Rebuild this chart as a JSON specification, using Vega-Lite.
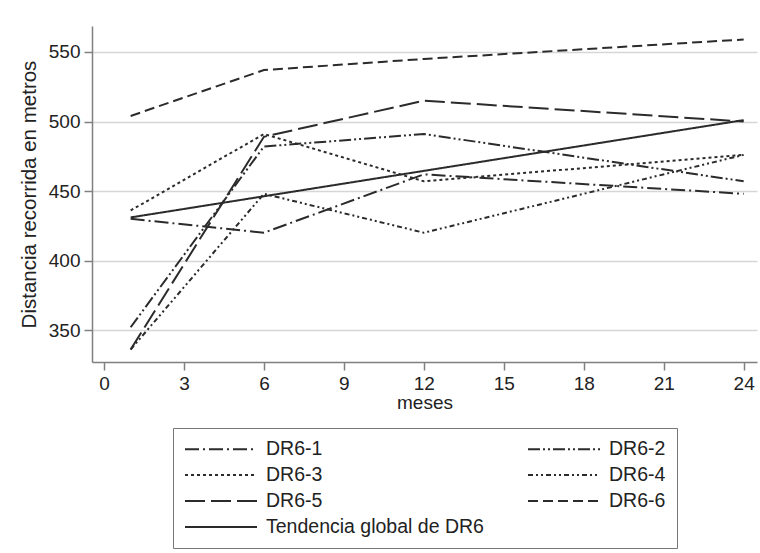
{
  "$schema": "https://vega.github.io/schema/vega-lite/v6.json",
  "width": 665,
  "height": 336,
  "autosize": {"type": "none"},
  "padding": {"left": 92, "top": 26, "right": 3, "bottom": 191},
  "background": "white",
  "data": {
    "values": [
      {"serie": "DR6-1", "mes": 1, "valor": 430},
      {"serie": "DR6-1", "mes": 6, "valor": 420},
      {"serie": "DR6-1", "mes": 12, "valor": 462},
      {"serie": "DR6-1", "mes": 24, "valor": 448},
      {"serie": "DR6-2", "mes": 1, "valor": 352},
      {"serie": "DR6-2", "mes": 6, "valor": 482},
      {"serie": "DR6-2", "mes": 12, "valor": 491},
      {"serie": "DR6-2", "mes": 24, "valor": 457},
      {"serie": "DR6-3", "mes": 1, "valor": 436},
      {"serie": "DR6-3", "mes": 6, "valor": 491},
      {"serie": "DR6-3", "mes": 12, "valor": 457},
      {"serie": "DR6-3", "mes": 24, "valor": 476},
      {"serie": "DR6-4", "mes": 1, "valor": 336},
      {"serie": "DR6-4", "mes": 6, "valor": 448},
      {"serie": "DR6-4", "mes": 12, "valor": 420},
      {"serie": "DR6-4", "mes": 24, "valor": 476},
      {"serie": "DR6-5", "mes": 1, "valor": 336},
      {"serie": "DR6-5", "mes": 6, "valor": 489},
      {"serie": "DR6-5", "mes": 12, "valor": 515},
      {"serie": "DR6-5", "mes": 24, "valor": 500},
      {"serie": "DR6-6", "mes": 1, "valor": 504},
      {"serie": "DR6-6", "mes": 6, "valor": 537},
      {"serie": "DR6-6", "mes": 12, "valor": 545},
      {"serie": "DR6-6", "mes": 24, "valor": 559},
      {"serie": "Tendencia global de DR6", "mes": 1, "valor": 431},
      {"serie": "Tendencia global de DR6", "mes": 24, "valor": 501}
    ]
  },
  "mark": {"type": "line", "color": "#2b2b2b", "strokeCap": "butt", "clip": true},
  "encoding": {
    "x": {
      "field": "mes", "type": "quantitative", "title": "meses",
      "scale": {"domain": [-0.45, 24.5], "nice": false, "zero": false},
      "axis": {"values": [0, 3, 6, 9, 12, 15, 18, 21, 24], "grid": false, "titlePadding": 0, "titleFontSize": 19}
    },
    "y": {
      "field": "valor", "type": "quantitative", "title": "Distancia recorrida en metros",
      "scale": {"domain": [327, 568.7], "nice": false, "zero": false},
      "axis": {"values": [350, 400, 450, 500, 550], "grid": true, "titlePadding": 9, "titleFontSize": 20.5}
    },
    "strokeDash": {
      "field": "serie", "type": "nominal",
      "scale": {
        "domain": ["DR6-1", "DR6-2", "DR6-3", "DR6-4", "DR6-5", "DR6-6", "Tendencia global de DR6"],
        "range": [[14, 4, 2, 4], [12, 3, 2, 3, 2, 3], [3, 3], [5, 3, 2, 3, 2, 3], [20, 6], [10, 5], [1, 0]]
      },
      "legend": {
        "title": null, "orient": "none", "legendX": 81, "legendY": 402, "columns": 2,
        "direction": "horizontal",
        "symbolType": "M-4,0H4", "symbolSize": 324, "symbolStrokeWidth": 2,
        "symbolStrokeColor": "#2b2b2b", "symbolOffset": 27,
        "labelFontSize": 19.5, "labelFont": "Liberation Sans", "labelColor": "#222",
        "labelOffset": 35, "labelLimit": 400, "rowPadding": 6, "columnPadding": 40,
        "padding": 11,
        "strokeColor": "#777", "fillColor": "white"
      }
    },
    "strokeWidth": {
      "field": "serie", "type": "nominal",
      "scale": {
        "domain": ["DR6-1", "DR6-2", "DR6-3", "DR6-4", "DR6-5", "DR6-6", "Tendencia global de DR6"],
        "range": [2, 2, 2, 2, 2, 2, 3]
      },
      "legend": null
    }
  },
  "config": {
    "font": "Liberation Sans",
    "view": {"stroke": null},
    "axis": {
      "labelFont": "Liberation Sans", "titleFont": "Liberation Sans",
      "labelFontSize": 19, "titleFontWeight": "normal",
      "labelColor": "#222", "titleColor": "#222",
      "domainColor": "#808080", "domainWidth": 1.5,
      "tickColor": "#808080", "tickWidth": 1.5, "tickSize": 8,
      "labelPadding": 4,
      "gridColor": "#d6d6d6", "gridWidth": 1.5
    }
  }
}
